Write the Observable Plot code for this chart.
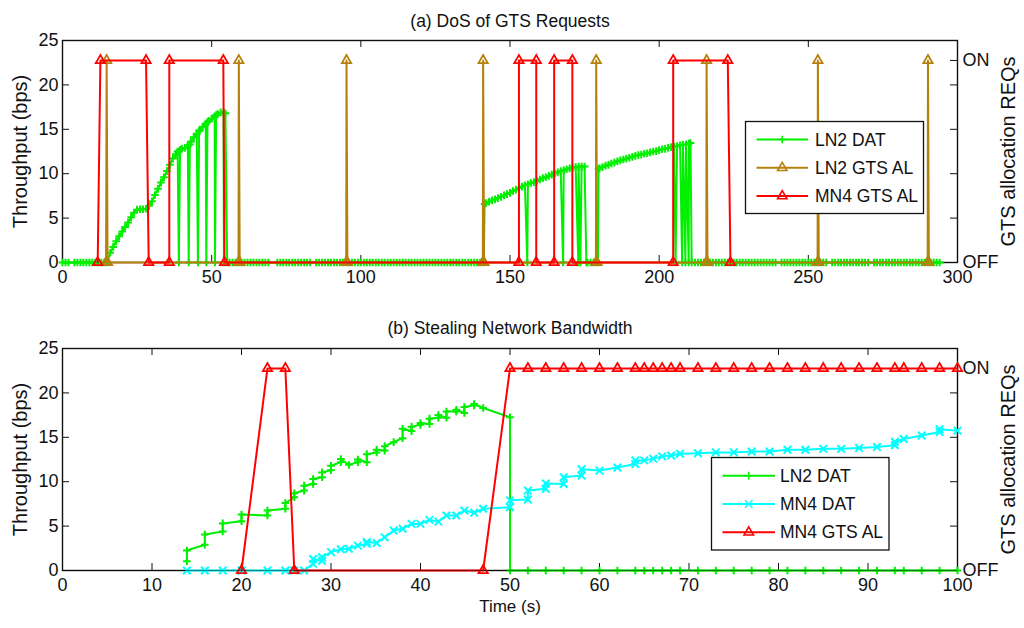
<!DOCTYPE html>
<html><head><meta charset="utf-8">
<script src="https://cdn.jsdelivr.net/npm/d3@7"></script>
<script src="https://cdn.jsdelivr.net/npm/@observablehq/plot@0.6"></script>
<style>
body{margin:0;background:#fff;}
#chart svg{display:block;}
</style></head><body><div id="chart"></div>
<script>
// ---------- data ----------
const ON = 22.75;               // level of the "ON" state on the right axis
const yTicks = [0, 5, 10, 15, 20, 25];
const xTicksA = [0, 50, 100, 150, 200, 250, 300];
const xTicksB = [0, 10, 20, 30, 40, 50, 60, 70, 80, 90, 100];
const titleA = "(a) DoS of GTS Requests";
const titleB = "(b) Stealing Network Bandwidth";
const yLabel = "Throughput (bps)";
const y2Label = "GTS allocation REQs";
const xLabelB = "Time (s)";
const legendA = ["LN2 DAT", "LN2 GTS AL", "MN4 GTS AL"];
const legendB = ["LN2 DAT", "MN4 DAT", "MN4 GTS AL"];

// (a) LN2 DAT
const ln2TopZero1 = [0,1,2,4,5,6,7,8,9,10,11,12,13,14,15];
const ln2TopRise1 = [[16,1.1],[17,1.75],[18,2.4],[19,2.95],[20,3.5],[21,4.0],[22,4.5],[23,5.1],[24,5.6],[25,5.95],[26,6.0],[27,6.0],[28,6.05],[29,6.4],[30,6.9],[31,7.6],[32,8.3],[33,9.0],[34,9.6],[35,10.3],[36,11.0],[37,11.7],[38,12.2],[38.6,12.5],[39,0],[39.4,12.7],[40,12.8],[41,12.9],[42,13.1],[42.3,0],[42.7,13.3],[43,13.6],[44,14.1],[45,14.5],[45.4,0],[45.8,14.8],[46,14.9],[47,15.3],[48,15.6],[48.2,0],[48.6,15.8],[49,15.95],[50,16.2],[51,16.45],[51.1,0],[51.5,16.6],[52,16.7],[53,16.9],[54,16.9],[54.1,0],[54.6,16.8],[55.2,0]];
const ln2TopZero2 = [56,57,58,59,60,61,62,63,64,65,66,67,68,69,72,73,74,75,76,77,78,79,80,81,82,83,85,86,87,88,89,90,91,92,93,94,95,96,97,98,99,100,101,102,103,104,105,106,107,108,109,110,111,112,113,114,115,116,117,118,119,120,121,122,123,124,125,126,127,128,129,130,131,132,133,134,135,136,137,138,139,140,141.2];
const ln2TopRise2 = [[141.5,6.6],[142,6.7],[143,6.85],[144,7.0],[145,7.1],[146,7.25],[147,7.4],[148,7.55],[149,7.7],[150,7.85],[151,8.05],[152,8.2],[153,8.4],[154,8.55],[155,8.7],[155.8,0],[156,8.8],[157,8.95],[158,9.05],[159,9.2],[160,9.35],[161,9.5],[162,9.6],[163,9.75],[164,9.9],[165,10.05],[166,10.15],[167,10.3],[167.8,0],[168,10.4],[169,10.5],[170,10.6],[171,10.7],[172,10.75],[172.9,0],[173,10.8],[173.6,0],[174,10.8],[175,10.8],[175.6,0],[176,0],[177,0],[178,0],[179,0],[179.5,0],[179.7,10.55],[180,10.6],[181,10.75],[182,10.9],[183,11.0],[184,11.15],[185,11.25],[186,11.4],[187,11.5],[188,11.6],[189,11.7],[190,11.8],[191,11.9],[192,12.0],[193,12.1],[194,12.15],[195,12.25],[196,12.3],[197,12.4],[198,12.5],[199,12.55],[200,12.65],[201,12.75],[202,12.8],[203,12.9],[204,13.0],[205,13.05],[205.5,0],[206,13.1],[207,13.2],[207.7,0],[208,13.25],[208.8,0],[209,13.3],[209.9,0],[210,13.4],[210.5,13.45],[210.9,0]];
const ln2TopZero3 = [212,213,214,215,216,217,218,219,220,221,222,223,224,225,226,227,228,229,230,231,232,233,234,235,236,237,238,239,241,242,243,244,245,246,247,248,249,250,251,252,253,254,255,256,258,259,260,261,262,263,264,265,266,267,268,269,270,272,273,274,275,276,277,278,279,280,281,282,283,284,285,286,287,288,289,290,291,292,293,294];

// (a) LN2 GTS AL
const ln2GtsTop = [[14.6,0],[14.8,ON],[15.1,0],[59.0,0],[59.1,ON],[59.4,0],[95.1,0],[95.2,ON],[95.5,0],[140.9,0],[141.0,ON],[141.3,0],[178.8,0],[178.9,ON],[179.2,0],[215.8,0],[215.9,ON],[216.2,0],[253.1,0],[253.2,ON],[253.5,0],[290.0,0],[290.1,ON],[290.4,0]];
// (a) MN4 GTS AL
const mn4GtsTop = [[11.8,0],[12.7,ON],[28.0,ON],[28.9,0],[35.8,0],[35.8,ON],[53.9,ON],[54.3,0],[153,0],[153,ON],[158.8,ON],[158.8,0],[164.8,0],[164.8,ON],[170.9,ON],[170.9,0],[204.7,0],[204.7,ON],[223,ON],[223.9,0]];

// (b) LN2 DAT
const ln2Bot = [[13.9,1.05],[13.9,2.25],[15.9,2.9],[15.9,4.05],[17.9,4.4],[17.9,5.3],[20,5.55],[20,6.3],[22.9,6.2],[22.9,6.75],[24.9,6.95],[24.9,7.6],[25.9,8.25],[25.9,8.7],[27,9.0],[27,9.55],[28,9.75],[28,10.3],[29,10.5],[29,11.05],[30,11.3],[30,11.8],[31.1,12.2],[31.1,12.55],[32,11.9],[33,12.2],[33,12.5],[34,12.2],[34,13.1],[35.1,13.3],[35.1,13.6],[36,13.5],[36,14.0],[37,14.45],[38,14.9],[38,15.95],[39,15.7],[39,16.2],[40,16.4],[40,16.6],[41,16.5],[41,17.1],[42,17.2],[42,17.5],[42.9,17.2],[42.9,17.9],[44,17.9],[44,18.1],[44.9,17.75],[44.9,18.4],[46,18.6],[46,18.75],[47,18.3],[50,17.25]];
// (b) sample instants after t = 50 (LN2 DAT at 0, MN4 GTS AL at ON)
const slotTimesB = [50,52,54,56,58,60,62,64,65,66,67,68,69,71,73,75,77,79,81,83,85,87,89,91,93,94,96,98,100];
// (b) MN4 DAT
const mn4Bot = [[13.9,0],[15.9,0],[17.9,0],[20,0],[22.9,0],[24.9,0],[25.9,0],[27,0],[28,0.75],[28,1.3],[29,1.1],[29,1.5],[30,2.07],[31.1,2.4],[32,2.45],[33,2.8],[34,3.0],[34,3.2],[35.1,3.1],[36,3.75],[37,4.5],[38,4.7],[39,5.25],[40,5.25],[41,5.7],[42,5.5],[42.9,6.2],[44,6.2],[44.9,6.75],[46,6.5],[47,6.95],[50,7.13],[50,7.9],[52,8.0],[52,9.0],[54,9.2],[54,9.8],[56,9.75],[56,10.5],[58,10.7],[58,11.4],[60,11.25],[62,11.6],[64,12.0],[64,12.4],[65,12.4],[66,12.6],[67,12.85],[68,12.95],[69,13.15],[71,13.2],[73,13.3],[75,13.3],[77,13.4],[79,13.4],[81,13.6],[83,13.6],[85,13.7],[87,13.7],[89,13.8],[91,13.9],[93,14.1],[93,14.5],[94,14.8],[96,15.2],[98,15.6],[98,15.9],[100,15.75]];
// (b) MN4 GTS AL before t = 50
const mn4GtsBot = [[20,0],[22.9,ON],[24.9,ON],[25.9,0],[47,0]];

// ---------- build tables ----------
const rows = pairs => pairs.map(([t, v]) => ({t, v}));
const zeros = ts => ts.map(t => ({t, v: 0}));
const ln2TopRows = [...zeros(ln2TopZero1), ...rows(ln2TopRise1), ...zeros(ln2TopZero2), ...rows(ln2TopRise2), ...zeros(ln2TopZero3)];
const ln2GtsTopRows = rows(ln2GtsTop);
const mn4GtsTopRows = rows(mn4GtsTop);
const ln2BotRows = [...rows(ln2Bot), ...zeros(slotTimesB)];
const mn4BotRows = rows(mn4Bot);
const mn4GtsBotRows = [...rows(mn4GtsBot), ...slotTimesB.map(t => ({t, v: ON}))];

// ---------- style ----------
const C_GREEN = "#00f000", C_BROWN = "#b5800c", C_RED = "#ff0000", C_CYAN = "#00ffff";
const FONT = "'Liberation Sans', Arial, Helvetica, sans-serif";
const ML = 62, MR = 67, PH = 222, PW = 1024 - ML - MR, TICK = 7;

function series(data, color, symbol, r, sw = 1.7) {
  return [
    Plot.line(data, {x: "t", y: "v", stroke: color, strokeWidth: 2}),
    Plot.dot(data, {x: "t", y: "v", symbol, r, fill: "none", stroke: color, strokeWidth: sw})
  ];
}

function panel({marginTop, marginBottom, xDomain, xTicks, title, titleDy, xLabel, layers}) {
  return Plot.plot({
    width: 1024, height: marginTop + PH + marginBottom,
    marginTop, marginBottom, marginLeft: ML, marginRight: MR,
    style: {fontFamily: FONT, fontSize: "18px", background: "white", color: "#111", overflow: "visible"},
    x: {domain: xDomain},
    y: {domain: [0, 25]},
    marks: [
      Plot.frame({stroke: "#111", strokeWidth: 1.4}),
      Plot.tickX(xTicks, {x: d => d, insetTop: PH - TICK, stroke: "#111"}),
      Plot.tickX(xTicks, {x: d => d, insetBottom: PH - TICK, stroke: "#111"}),
      Plot.tickY(yTicks, {y: d => d, insetRight: PW - TICK, stroke: "#111"}),
      Plot.tickY([...yTicks, ON], {y: d => d, insetLeft: PW - TICK, stroke: "#111"}),
      Plot.axisX({ticks: xTicks, tickSize: 0, tickPadding: 8, label: null, fontSize: 18}),
      Plot.axisY({ticks: yTicks, tickSize: 0, tickPadding: 4, label: null, fontSize: 18}),
      Plot.axisY({anchor: "right", ticks: [0, ON], tickFormat: d => d === 0 ? "OFF" : "ON", tickSize: 0, tickPadding: 5, label: null, fontSize: 18}),
      Plot.text([yLabel], {text: d => d, frameAnchor: "left", textAnchor: "middle", dx: -42, rotate: -90, fontSize: 20}),
      Plot.text([y2Label], {text: d => d, frameAnchor: "right", textAnchor: "middle", dx: 51, rotate: -90, fontSize: 20}),
      Plot.text([title], {text: d => d, frameAnchor: "top", dy: titleDy, fontSize: 17.5}),
      xLabel ? Plot.text([xLabel], {text: d => d, frameAnchor: "bottom", dy: 41, fontSize: 17}) : null,
      ...layers
    ]
  });
}

function addLegend(svg, box, items) {
  const g = d3.select(svg).append("g").attr("font-family", FONT).attr("font-size", 17.5).attr("text-anchor", "start");
  g.append("rect").attr("x", box.x).attr("y", box.y).attr("width", box.w).attr("height", box.h)
    .attr("fill", "white").attr("stroke", "#111").attr("stroke-width", 1.3);
  items.forEach((it, i) => {
    const y = box.y0 + i * box.dy;
    g.append("line").attr("x1", box.lx1).attr("x2", box.lx2).attr("y1", y).attr("y2", y)
      .attr("stroke", it.color).attr("stroke-width", 2);
    g.append("path").attr("d", d3.symbol(it.symbol, it.size)())
      .attr("transform", `translate(${(box.lx1 + box.lx2) / 2},${y})`)
      .attr("fill", "none").attr("stroke", it.color).attr("stroke-width", 1.6);
    g.append("text").attr("x", box.tx).attr("y", y).attr("dy", "0.35em").attr("fill", "#111")
      .attr("text-anchor", "start").text(it.label);
  });
}

const sz = r => r * r * Math.PI;

const svgA = panel({
  marginTop: 40, marginBottom: 52, xDomain: [0, 300], xTicks: xTicksA, title: titleA, titleDy: -26,
  layers: [
    ...series(ln2TopRows, C_GREEN, "plus", 2.6, 2),
    ...series(ln2GtsTopRows, C_BROWN, "triangle2", 4.5),
    ...series(mn4GtsTopRows, C_RED, "triangle2", 4.5)
  ]
});
addLegend(svgA, {x: 745.5, y: 121.5, w: 178, h: 92, y0: 139.5, dy: 28.3, lx1: 756.5, lx2: 808, tx: 815}, [
  {label: legendA[0], color: C_GREEN, symbol: d3.symbolPlus, size: sz(2.6)},
  {label: legendA[1], color: C_BROWN, symbol: d3.symbolTriangle2, size: sz(4.5)},
  {label: legendA[2], color: C_RED, symbol: d3.symbolTriangle2, size: sz(4.5)}
]);

const svgB = panel({
  marginTop: 34, marginBottom: 58, xDomain: [0, 100], xTicks: xTicksB, title: titleB, titleDy: -27,
  xLabel: xLabelB,
  layers: [
    ...series(ln2BotRows, C_GREEN, "plus", 2.6, 2),
    ...series(mn4BotRows, C_CYAN, "times", 3.5, 2),
    ...series(mn4GtsBotRows, C_RED, "triangle2", 4.5),
    Plot.ruleY([0], {stroke: "#000", strokeOpacity: 0.45, strokeWidth: 1.2})
  ]
});
addLegend(svgB, {x: 711.5, y: 143.5, w: 177.5, h: 92.5, y0: 161.7, dy: 28.3, lx1: 722.5, lx2: 775, tx: 780}, [
  {label: legendB[0], color: C_GREEN, symbol: d3.symbolPlus, size: sz(2.6)},
  {label: legendB[1], color: C_CYAN, symbol: d3.symbolTimes, size: sz(3.5)},
  {label: legendB[2], color: C_RED, symbol: d3.symbolTriangle2, size: sz(4.5)}
]);

const chart = document.getElementById("chart");
chart.appendChild(svgA);
chart.appendChild(svgB);
</script>
</body></html>
